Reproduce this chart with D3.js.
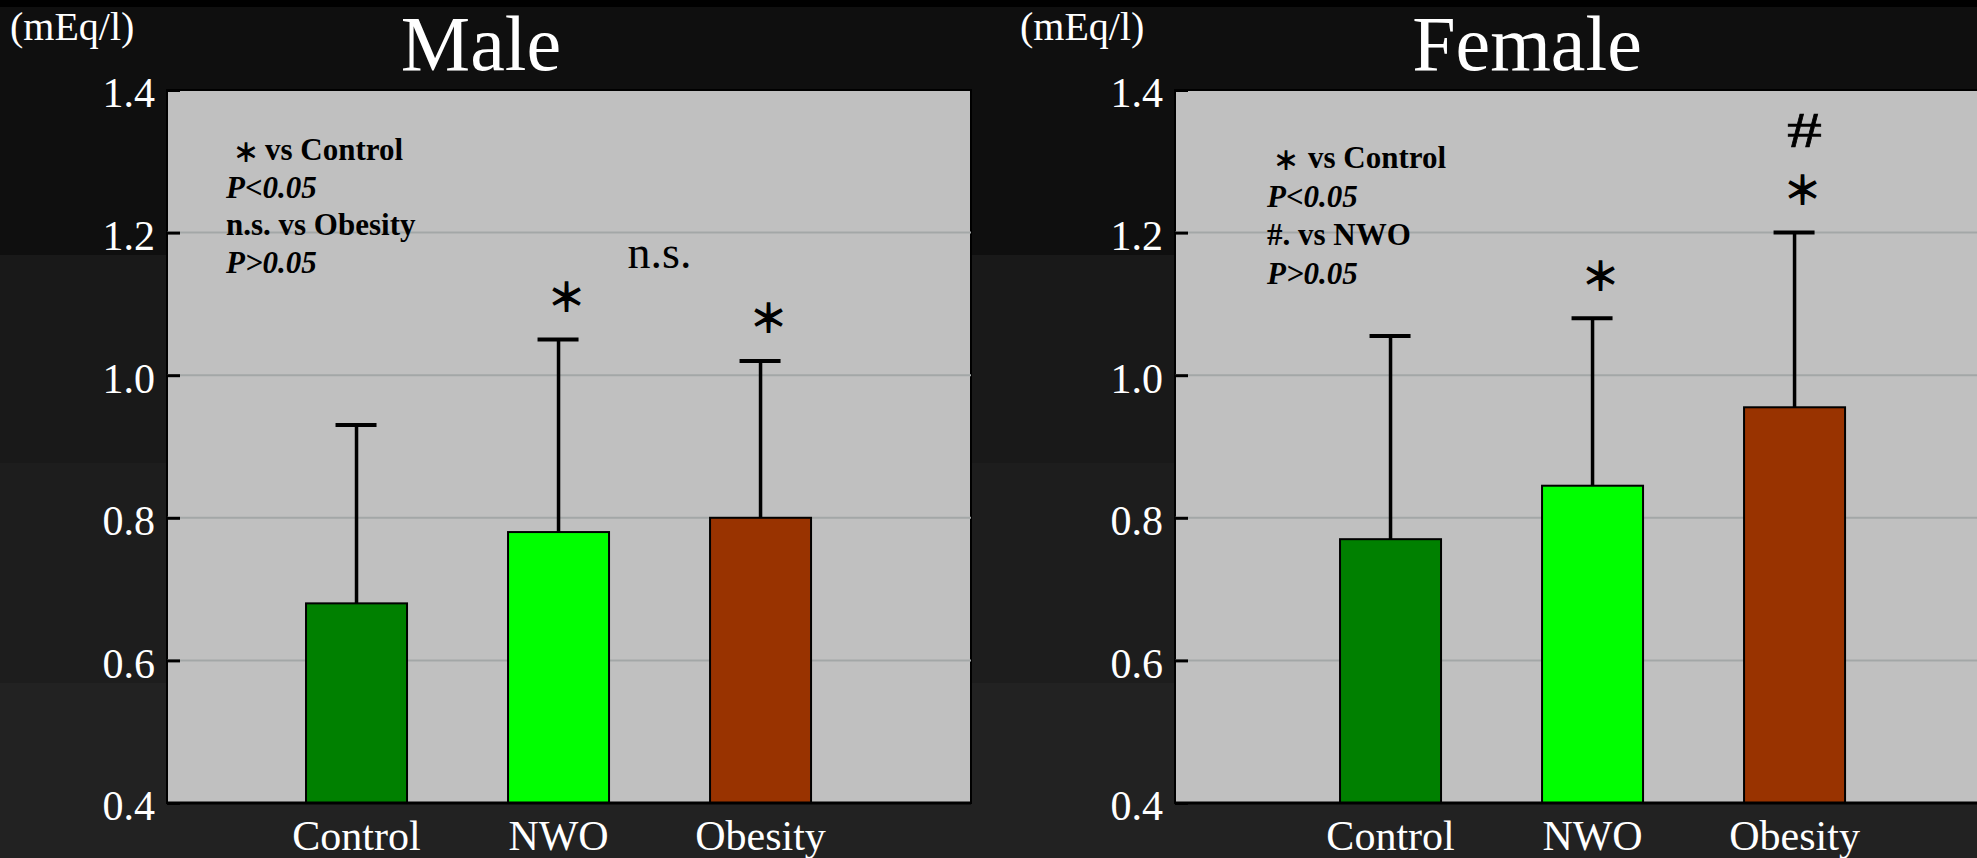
<!DOCTYPE html>
<html>
<head>
<meta charset="utf-8">
<script src="https://cdn.jsdelivr.net/npm/d3@7"></script>
<style>
  html, body { margin: 0; padding: 0; background: #222222; }
  svg { display: block; }
</style>
</head>
<body>
<svg id="chart" width="1977" height="858"></svg>
<script>
// Serum values (mEq/l), mean with upper SD bar, by group
const categories = ["Control", "NWO", "Obesity"];
const maleMeans = [0.68, 0.78, 0.80];
const maleSD = [0.25, 0.27, 0.22];
const femaleMeans = [0.77, 0.845, 0.955];
const femaleSD = [0.285, 0.235, 0.245];
const barColors = ["#008000", "#00ff00", "#993300"];
const yTicks = [0.4, 0.6, 0.8, 1.0, 1.2, 1.4];
const yDomain = [0.4, 1.4];
const unitLabel = "(mEq/l)";

// significance marks above each bar
const maleStars = ["", "＊", "＊"];
const maleHash = ["", "", ""];
const femaleStars = ["", "＊", "＊"];
const femaleHash = ["", "", "#"];

// legend lines: star prefix, text, italic
const maleLegend = [
  { star: "＊", text: "vs Control", italic: false },
  { star: "", text: "P<0.05", italic: true },
  { star: "", text: "n.s. vs Obesity", italic: false },
  { star: "", text: "P>0.05", italic: true }
];
const femaleLegend = [
  { star: "＊", text: "vs Control", italic: false },
  { star: "", text: "P<0.05", italic: true },
  { star: "", text: "#. vs NWO", italic: false },
  { star: "", text: "P>0.05", italic: true }
];

const serif = "'Liberation Serif', 'Times New Roman', serif";
const cjk = "'Noto Sans CJK JP', sans-serif";

const svg = d3.select("#chart");
const W = 1977, H = 858;

// dark banded backdrop
const bands = [
  { y0: 0, y1: 7, c: "#000000" },
  { y0: 7, y1: 255, c: "#0f0f0f" },
  { y0: 255, y1: 463, c: "#191919" },
  { y0: 463, y1: 683, c: "#1d1d1d" },
  { y0: 683, y1: 858, c: "#222222" }
];
svg.selectAll("rect.band").data(bands).join("rect")
  .attr("class", "band")
  .attr("x", 0).attr("width", W)
  .attr("y", d => d.y0).attr("height", d => d.y1 - d.y0)
  .attr("fill", d => d.c);

const plotTop = 90, plotBottom = 803, plotWidth = 804;
const y = d3.scaleLinear().domain(yDomain).range([plotBottom, plotTop]);

const panels = [
  { title: "Male", titleX: 481, left: 167, align: 0.465, means: maleMeans, sd: maleSD,
    stars: maleStars, hash: maleHash, legend: maleLegend, legendX: 226, legendY: 160, legendStep: 37.7,
    starDx: 8, textDx: 39, unitX: 10, ns: true },
  { title: "Female", titleX: 1527, left: 1175, align: 0.552, means: femaleMeans, sd: femaleSD,
    stars: femaleStars, hash: femaleHash, legend: femaleLegend, legendX: 1267, legendY: 168, legendStep: 38.5,
    starDx: 7, textDx: 41, unitX: 1020, ns: false }
];

panels.forEach(p => {
  const g = svg.append("g");
  const x = d3.scaleBand().domain(categories)
    .range([p.left, p.left + plotWidth])
    .paddingInner(0.5).paddingOuter(0.74).align(p.align);
  const cx = c => x(c) + x.bandwidth() / 2;

  // plot background
  g.append("rect")
    .attr("x", p.left).attr("y", plotTop)
    .attr("width", plotWidth).attr("height", plotBottom - plotTop)
    .attr("fill", "#c0c0c0").attr("stroke", "#000").attr("stroke-width", 2);

  // grid lines
  g.selectAll("line.grid").data(yTicks.filter(t => t > yDomain[0] && t < yDomain[1])).join("line")
    .attr("class", "grid")
    .attr("x1", p.left).attr("x2", p.left + plotWidth)
    .attr("y1", d => y(d)).attr("y2", d => y(d))
    .attr("stroke", "#a3a7a7").attr("stroke-width", 2);

  // y axis with inward ticks
  const yAxis = d3.axisLeft(y).tickValues(yTicks).tickFormat(d3.format(".1f"))
    .tickSize(-13).tickPadding(12);
  const ya = g.append("g").attr("transform", `translate(${p.left},0)`).call(yAxis);
  ya.attr("font-family", serif);
  ya.select(".domain").remove();
  ya.selectAll(".tick line").attr("stroke", "#000").attr("stroke-width", 3);
  ya.selectAll(".tick text")
    .attr("fill", "#fff").attr("font-family", serif).attr("font-size", 42)
    .attr("dy", "0.4em");

  // bars
  g.selectAll("rect.bar").data(categories).join("rect")
    .attr("class", "bar")
    .attr("x", d => x(d)).attr("width", x.bandwidth())
    .attr("y", (d, i) => y(p.means[i]))
    .attr("height", (d, i) => y(yDomain[0]) - y(p.means[i]))
    .attr("fill", (d, i) => barColors[i])
    .attr("stroke", "#000").attr("stroke-width", 2);

  // upper error bars
  g.selectAll("line.err").data(categories).join("line")
    .attr("class", "err")
    .attr("x1", d => cx(d)).attr("x2", d => cx(d))
    .attr("y1", (d, i) => y(p.means[i]))
    .attr("y2", (d, i) => y(p.means[i] + p.sd[i]))
    .attr("stroke", "#000").attr("stroke-width", 3.5);
  g.selectAll("line.cap").data(categories).join("line")
    .attr("class", "cap")
    .attr("x1", d => cx(d) - 21).attr("x2", d => cx(d) + 20)
    .attr("y1", (d, i) => y(p.means[i] + p.sd[i]))
    .attr("y2", (d, i) => y(p.means[i] + p.sd[i]))
    .attr("stroke", "#000").attr("stroke-width", 4);

  // x axis line and category labels
  g.append("line")
    .attr("x1", p.left).attr("x2", p.left + plotWidth)
    .attr("y1", plotBottom).attr("y2", plotBottom)
    .attr("stroke", "#000").attr("stroke-width", 3);
  const xa = g.append("g").attr("transform", `translate(0,${plotBottom})`)
    .call(d3.axisBottom(x).tickSize(0).tickPadding(17));
  xa.attr("font-family", serif);
  xa.select(".domain").remove();
  xa.selectAll(".tick text")
    .attr("fill", "#fff").attr("font-family", serif).attr("font-size", 42);

  // significance marks
  g.selectAll("text.star").data(categories).join("text")
    .attr("class", "star")
    .attr("x", d => cx(d) + 8)
    .attr("y", (d, i) => y(p.means[i] + p.sd[i]) - 45)
    .attr("text-anchor", "middle").attr("dominant-baseline", "central")
    .attr("font-family", cjk).attr("font-size", 38).attr("fill", "#000")
    .attr("stroke", "#000").attr("stroke-width", 1.6)
    .text((d, i) => p.stars[i]);
  g.selectAll("text.hash").data(categories).join("text")
    .attr("class", "hash")
    .attr("transform", (d, i) => `translate(${cx(d) + 10},${y(p.means[i] + p.sd[i]) - 102}) scale(1.4,1)`)
    .attr("text-anchor", "middle").attr("dominant-baseline", "central")
    .attr("font-family", serif).attr("font-size", 50).attr("fill", "#000")
    .attr("stroke", "#000").attr("stroke-width", 0.6)
    .text((d, i) => p.hash[i]);

  if (p.ns) {
    g.append("text")
      .attr("x", (cx("NWO") + cx("Obesity")) / 2)
      .attr("y", y(1.15))
      .attr("text-anchor", "middle")
      .attr("font-family", serif).attr("font-size", 46).attr("fill", "#000")
      .text("n.s.");
  }

  // legend block
  p.legend.forEach((l, i) => {
    const ly = p.legendY + i * p.legendStep;
    if (l.star) {
      g.append("text")
        .attr("x", p.legendX + p.starDx).attr("y", ly - 10)
        .attr("dominant-baseline", "central")
        .attr("font-family", cjk).attr("font-size", 24)
        .attr("stroke", "#000").attr("stroke-width", 1.4)
        .attr("fill", "#000").text(l.star);
    }
    g.append("text")
      .attr("x", p.legendX + (l.star ? p.textDx : 0)).attr("y", ly)
      .attr("font-family", serif).attr("font-weight", 700)
      .attr("font-style", l.italic ? "italic" : "normal")
      .attr("font-size", 31).attr("fill", "#000")
      .text(l.text);
  });

  // titles and unit label
  svg.append("text")
    .attr("x", p.titleX).attr("y", 70)
    .attr("text-anchor", "middle")
    .attr("font-family", serif).attr("font-size", 78).attr("fill", "#fff")
    .text(p.title);
  svg.append("text")
    .attr("x", p.unitX).attr("y", 40)
    .attr("font-family", serif).attr("font-size", 40).attr("fill", "#fff")
    .text(unitLabel);
});
</script>
</body>
</html>
